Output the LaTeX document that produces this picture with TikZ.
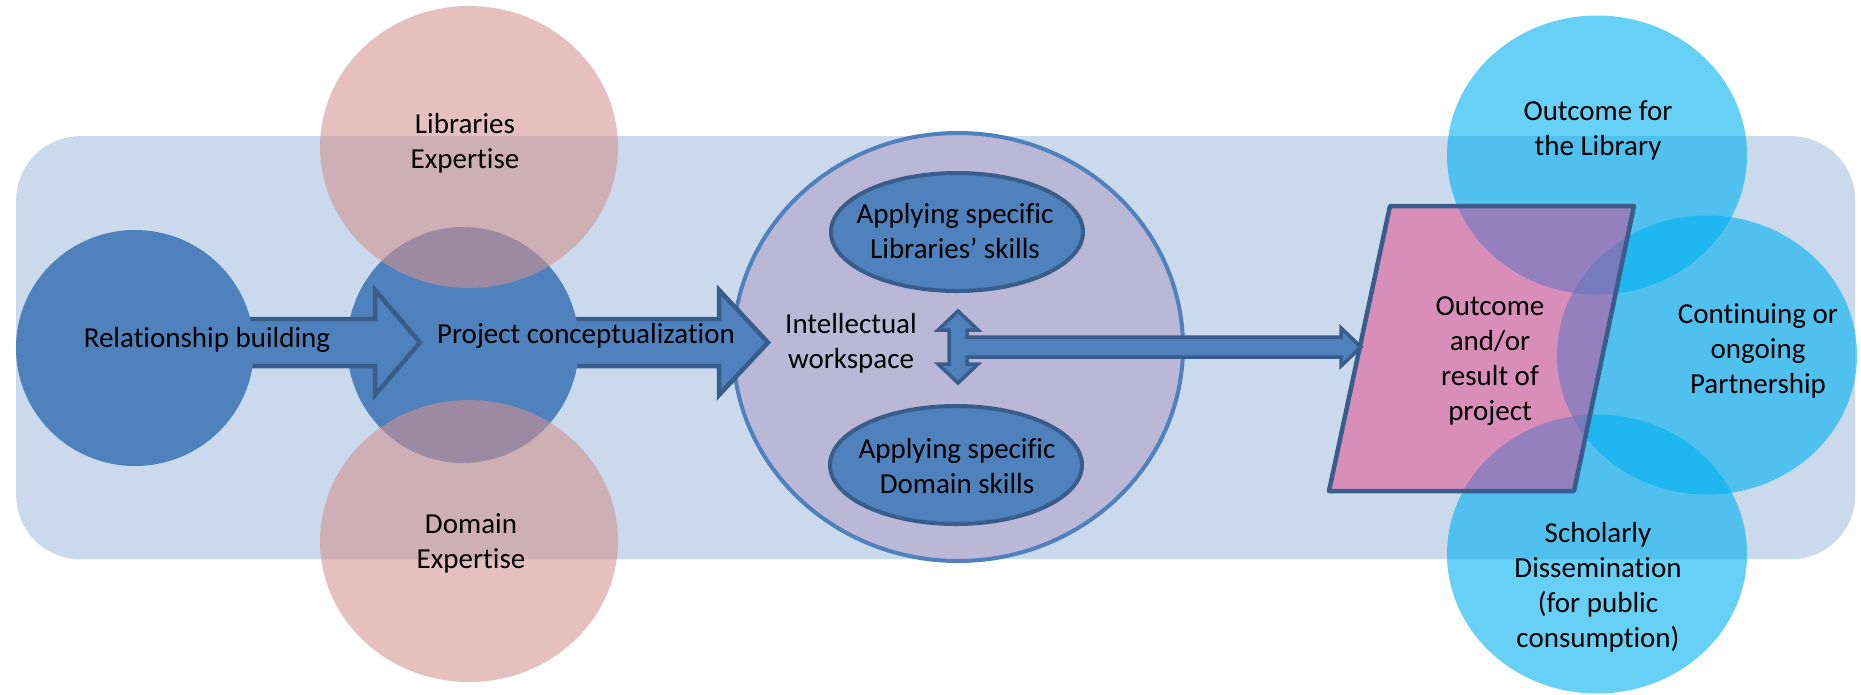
\documentclass[tikz,border=0pt]{standalone}
\usepackage{fontspec}
\setmainfont{Carlito}[Ligatures=NoCommon]
\usetikzlibrary{shapes.geometric}

\definecolor{accent}{RGB}{79,129,189}
\definecolor{edge}{RGB}{56,93,138}
\definecolor{panel}{RGB}{202,217,235}
\definecolor{rose}{RGB}{212,146,145}
\definecolor{lavender}{RGB}{187,183,214}
\definecolor{sky}{RGB}{0,176,240}
\definecolor{outpink}{RGB}{240,40,120}

% fixed-height line strut so every text line sits 35pt below the previous one
\newcommand{\ls}{\rule[-7pt]{0pt}{28pt}}

\begin{document}
\begin{tikzpicture}[x=1pt, y=-1pt,
  txt/.style={font=\fontsize{29}{35}\selectfont, align=center, inner sep=0pt, text=black},
  blob/.style={ellipse, inner sep=0pt, fill=accent},
  expert/.style={ellipse, inner sep=0pt, fill=rose, fill opacity=0.58,
    minimum width=298pt, minimum height=282pt},
  skill/.style={ellipse, inner sep=0pt, fill=accent, draw=edge, line width=4pt,
    minimum width=252pt, minimum height=118pt},
  result/.style={ellipse, inner sep=0pt, fill=sky, fill opacity=0.6,
    minimum width=300pt, minimum height=279pt},
  blockarrow/.style={fill=accent, draw=edge, line width=4.5pt, line join=miter}]

\useasboundingbox (0,0) rectangle (1861,694);

% background panel
\node[rectangle, rounded corners=64pt, fill=panel, inner sep=0pt,
  minimum width=1839pt, minimum height=423pt, anchor=north west] (panel) at (16,136) {};

% intellectual workspace
\node[ellipse, inner sep=0pt, fill=lavender, draw=accent, line width=4pt,
  minimum width=450pt, minimum height=428pt] (work) at (958,347) {};

% arrow: conceptualization -> workspace
\path[blockarrow] (560,319) -- (719,319) -- (719,290) -- (768,342.5)
  -- (719,395) -- (719,366) -- (560,366) -- cycle;

\node[blob, minimum width=232pt, minimum height=236pt] (proj) at (463,345) {};

% arrow: relationship -> conceptualization
\path[blockarrow] (230,319) -- (375,319) -- (375,290) -- (420,342.5)
  -- (375,395) -- (375,366) -- (230,366) -- cycle;

\node[blob, minimum width=238pt, minimum height=236pt] (rel) at (135,348) {};

% expertise bubbles
\node[expert] (libexp) at (469,147) {};
\node[expert] (domexp) at (469,541) {};

% skills inside the workspace
\node[skill] (libskill) at (957,232) {};
\node[skill] (domskill) at (956,465) {};

% three-headed arrow: up, down and on to the outcome
\path[fill=accent, draw=edge, line width=3.5pt, line join=miter]
  (958,311) -- (978,330) -- (967,330) -- (967,337) -- (1341,337) -- (1341,328)
  -- (1361,347) -- (1341,366) -- (1341,357) -- (967,357) -- (967,364)
  -- (978,364) -- (958,383) -- (938,364) -- (949,364) -- (949,330)
  -- (938,330) -- cycle;

% outcome bubbles
\node[result] (outlib) at (1597,155) {};
\node[result] (partner) at (1707,355) {};
\node[result] (dissem) at (1597,554) {};

% outcome parallelogram
\path[fill=outpink, fill opacity=0.42, draw=edge, line width=4.5pt, line join=round]
  (1390,206) -- (1634,206) -- (1574,491) -- (1329,491) -- cycle;

% labels
\node[txt] (t-rel) at (207,340.5) {\ls Relationship building};
\node[txt] (t-proj) at (586,336.5) {\ls Project conceptualization};
\node[txt] (t-libexp) at (465,144) {\ls Libraries\\\ls Expertise};
\node[txt] (t-domexp) at (471,544) {\ls Domain\\\ls Expertise};
\node[txt] (t-work) at (851,344) {\ls Intellectual\\\ls workspace};
\node[txt] (t-libskill) at (955,234) {\ls Applying specific\\\ls Libraries’ skills};
\node[txt] (t-domskill) at (957,469) {\ls Applying specific\\\ls Domain skills};
\node[txt] (t-out) at (1490,361) {\ls Outcome\\\ls and/or\\\ls result of\\\ls project};
\node[txt] (t-outlib) at (1598,131) {\ls Outcome for\\\ls the Library};
\node[txt] (t-partner) at (1758,351.5) {\ls Continuing or\\\ls ongoing\\\ls Partnership};
\node[txt] (t-dissem) at (1598,588) {\ls Scholarly\\\ls Dissemination\\\ls (for public\\\ls consumption)};

\end{tikzpicture}
\end{document}
